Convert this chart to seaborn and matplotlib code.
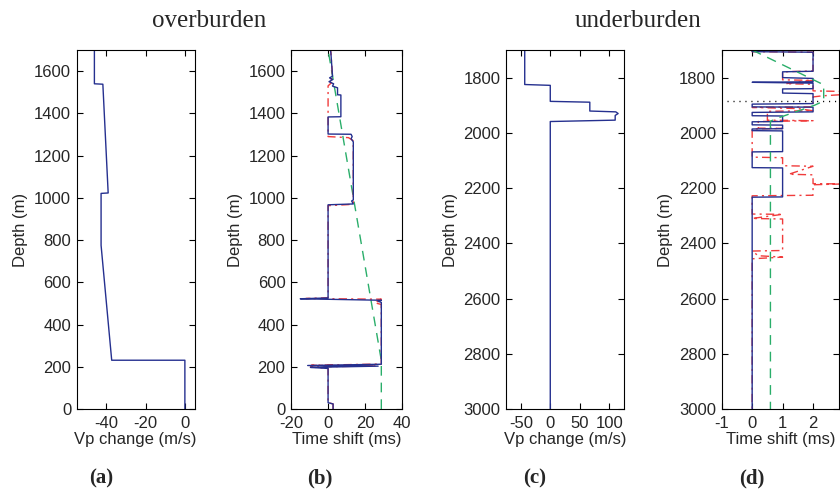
import matplotlib
matplotlib.use("Agg")
import matplotlib.pyplot as plt
import seaborn as sns

# ---------------- data ----------------
# (a) overburden: Vp change (m/s) against depth (m)
a_depth = [0, 231, 231, 775, 1021, 1023, 1538, 1540, 1700]
a_vp = [0, 0, -37.2, -42.6, -42.6, -39.0, -41.7, -46.0, -46.0]

# (b) overburden: time shift (ms) against depth (m)
b_blue_depth = [0, 24, 30, 192, 197, 203, 206, 212, 505, 510, 515, 522, 526,
                967, 971, 985, 990, 1265, 1280, 1290, 1301, 1302, 1383, 1384,
                1487, 1488, 1521, 1529, 1540, 1550, 1560, 1568, 1576, 1687, 1700]
b_blue_ts = [2.7, 2.7, 0, 0, -9.5, 27, -11, 28.7, 28.7, 27, 28.7, -15, 0,
             0, 13.6, 12.7, 13.6, 13.6, 12.4, 13.0, 12.4, 0, 0, 6.9,
             6.9, 5.1, 5.1, 2.4, 3.0, 0.5, 2.5, 0.8, 2.4, 1.5, 1.3]
b_red_depth = [0, 24, 30, 192, 199, 204, 207, 213, 495, 500, 506, 512, 520, 523,
               527, 963, 965, 968, 972, 1270, 1285, 1290, 1530, 1545, 1555,
               1565, 1575, 1690, 1700]
b_red_ts = [2.7, 2.7, 0, 0, -9.5, 26, -9, 28.7, 28.7, 26.5, 28, 25.5, 28.7, -12,
            0, 0, 5, 11, 13.6, 13.6, 11, 0, 0, 1.8, 0.2,
            2.0, 2.4, 1.5, 1.3]
b_green_depth = [0, 230, 1700]
b_green_ts = [28.7, 28.7, 0]

# (c) underburden: Vp change (m/s) against depth (m)
c_depth = [1700, 1825, 1828, 1886, 1889, 1921, 1924, 1930, 1937, 1954, 1959, 3000]
c_vp = [-43.3, -43.3, 0, 0, 67, 67, 111, 115, 110, 110, 0, 0]

# (d) underburden: time shift (ms) against depth (m)
d_blue_depth = [1700, 1706, 1708, 1777, 1779, 1800, 1803, 1815, 1817, 1820,
                1840, 1841, 1856, 1858, 1894, 1896, 1906, 1907, 1924, 1926,
                1938, 1939, 1959, 1960, 1971, 1972, 1985, 1986, 1992, 1993,
                2068, 2069, 2126, 2127, 2232, 2233, 3000]
d_blue_ts = [0, 0, 2, 2, 1, 1, 2, 2, 0, 2,
             2, 1, 1, 2, 2, 0, 0, 2, 2, 0,
             0, 1, 1, 0, 0, 1, 1, 0, 0, 1,
             1, 0, 0, 1, 1, 0, 0]
d_red_depth = [1700, 1706, 1708, 1776, 1779, 1808, 1810, 1822, 1824, 1848,
               1850, 1862, 1866, 1870, 1906, 1908, 1912, 1920, 1922, 1954,
               1956, 1959, 1983, 1984, 1986, 2088, 2090, 2119, 2121, 2150,
               2152, 2184, 2185, 2188, 2226, 2228, 2294, 2295, 2310, 2312,
               2426, 2428, 2445, 2450, 2456, 3000]
d_red_ts = [0, 0, 2, 2, 1, 1, 2, 1.1, 2, 2,
            2.9, 2.9, 2.3, 2, 2, 0, 1.5, 2, 0.5, 0.5,
            2, 0.2, 0.2, 1, 0, 0, 1, 1, 2, 1.2,
            2, 2, 3, 2, 2, 0, 0, 1, 0, 1,
            1, 0, 0.2, 1, 0, 0]
d_green_depth = [1700, 1826, 1885, 1900, 1950, 1958, 3000]
d_green_ts = [0.0, 2.35, 2.35, 2.05, 0.75, 0.6, 0.6]
d_marker_depth = [1886, 1886]
d_marker_ts = [-0.82, 3.0]

titles = ["overburden", "underburden"]
panel_tags = ["(a)", "(b)", "(c)", "(d)"]

# ---------------- style ----------------
sns.set_theme(style="ticks")
plt.rcParams["font.family"] = ["Liberation Sans", "DejaVu Sans"]
plt.rcParams["axes.edgecolor"] = "black"
plt.rcParams["axes.linewidth"] = 0.8
plt.rcParams["axes.unicode_minus"] = False

BLUE = "#25308f"
RED = "#f03c3c"
GREEN = "#2aae6a"
SOLID = "-"
DASHED = (0, (7, 5))
DASHDOT = (0, (6, 3, 1.5, 3))
DOTTED = (0, (0.8, 3.5))

fig = plt.figure(figsize=(8.4, 4.98), dpi=100)
bottom, height = 0.1787, 0.7209
ax_a = fig.add_axes([0.0913, bottom, 0.1405, height])
ax_b = fig.add_axes([0.3464, bottom, 0.1325, height])
ax_c = fig.add_axes([0.6024, bottom, 0.1405, height])
ax_d = fig.add_axes([0.8592, bottom, 0.1395, height])


def trace(ax, x, y, color, ls, lw=1.0):
    sns.lineplot(x=x, y=y, ax=ax, sort=False, estimator=None,
                 color=color, linestyle=ls, linewidth=lw)


trace(ax_a, a_vp, a_depth, BLUE, SOLID)

trace(ax_b, b_green_ts, b_green_depth, GREEN, DASHED)
trace(ax_b, b_red_ts, b_red_depth, RED, DASHDOT)
trace(ax_b, b_blue_ts, b_blue_depth, BLUE, SOLID)

trace(ax_c, c_vp, c_depth, BLUE, SOLID)

trace(ax_d, d_red_ts, d_red_depth, RED, DASHDOT)
trace(ax_d, d_blue_ts, d_blue_depth, BLUE, SOLID)
trace(ax_d, d_green_ts, d_green_depth, GREEN, DASHED)
trace(ax_d, d_marker_ts, d_marker_depth, "black", DOTTED, lw=1.0)

# axis ranges and ticks
ax_a.set_xlim(-55, 5)
ax_a.set_ylim(0, 1700)
ax_a.set_xticks([-40, -20, 0])
ax_b.set_xlim(-20, 40)
ax_b.set_ylim(0, 1700)
ax_b.set_xticks([-20, 0, 20, 40])
for ax in (ax_a, ax_b):
    ax.set_yticks(range(0, 1601, 200))

ax_c.set_xlim(-75, 125)
ax_c.set_xticks([-50, 0, 50, 100])
ax_d.set_xlim(-1, 2.85)
ax_d.set_xticks([-1, 0, 1, 2])
for ax in (ax_c, ax_d):
    ax.set_ylim(3000, 1700)
    ax.set_yticks(range(1800, 3001, 200))

xlabels = ["Vp change (m/s)", "Time shift (ms)", "Vp change (m/s)", "Time shift (ms)"]
for ax, xl in zip((ax_a, ax_b, ax_c, ax_d), xlabels):
    ax.set_xlabel(xl, fontsize=12, labelpad=1)
    ax.set_ylabel("Depth (m)", fontsize=12, labelpad=4)
    ax.tick_params(direction="in", top=True, right=True, length=4, width=0.8,
                   labelsize=12, color="black", pad=4)
    ax.tick_params(axis="x", pad=5)
    for s in ax.spines.values():
        s.set_visible(True)
        s.set_color("black")
        s.set_linewidth(0.8)
    ax.grid(False)

# headings and panel tags
fig.text(0.249, 0.958, titles[0], ha="center", va="center",
         family=["Liberation Serif", "DejaVu Serif"], fontsize=18)
fig.text(0.7595, 0.958, titles[1], ha="center", va="center",
         family=["Liberation Serif", "DejaVu Serif"], fontsize=18)
for tag, xc in zip(panel_tags, [101, 320, 535, 752]):
    fig.text(xc / 840, 1 - 478 / 498, tag, ha="center", va="center",
             family=["Liberation Serif", "DejaVu Serif"], fontsize=15,
             fontweight="bold")

fig.savefig("out.png", dpi=100)
